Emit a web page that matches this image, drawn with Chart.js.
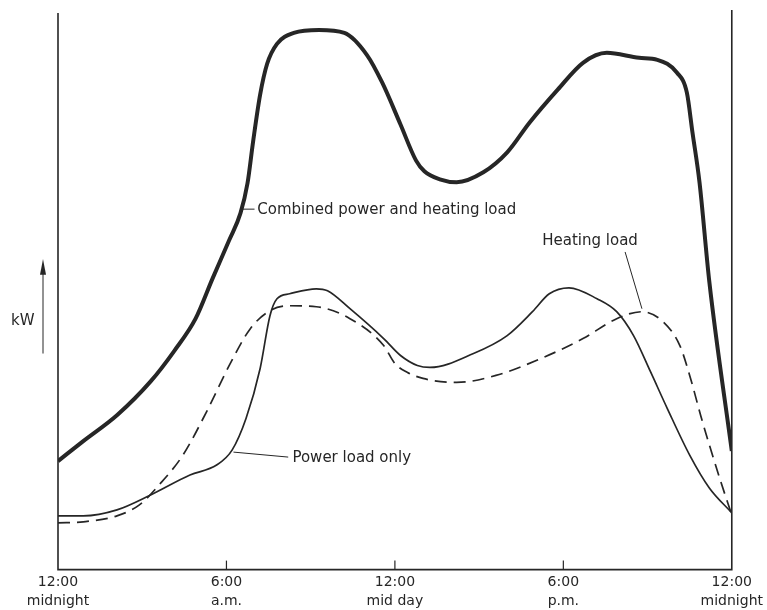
<!DOCTYPE html>
<html>
<head>
<meta charset="utf-8">
<script src="https://cdn.jsdelivr.net/npm/chart.js@4/dist/chart.umd.min.js"></script>
<style>
  html, body { margin: 0; padding: 0; background: #fff; }
  #wrap { width: 767px; height: 610px; }
</style>
</head>
<body>
<div id="wrap"><canvas id="loadChart" width="767" height="610"></canvas></div>
<script>
// hours from midnight, load in arbitrary kW units
const combinedHours = [0, 0.9, 2.1, 3.3, 4.15, 4.9, 5.5, 6.1, 6.5, 6.75, 6.95, 7.2, 7.45, 7.8, 8.4, 9.3, 10.2, 11.0, 11.55, 12.2, 12.75, 13.05, 13.6, 14.2, 15.15, 16.0, 16.8, 17.8, 18.7, 19.55, 20.7, 21.35, 22.05, 22.4, 22.6, 22.85, 23.2, 24];
const combinedKW = [109, 129, 155, 189, 220, 252, 292, 331, 358, 388, 430, 477, 508, 528, 539, 542, 539, 517, 489, 447, 411, 400, 392, 389, 399, 419, 449, 482, 509, 519, 514, 512, 499, 479, 439, 389, 289, 119];

const powerHours = [0, 0.9, 2.1, 3.3, 4.7, 5.65, 6.2, 6.7, 7.2, 7.55, 7.8, 8.25, 9.2, 9.6, 10.4, 11.6, 12.2, 12.8, 13.25, 14.8, 16.0, 16.9, 17.5, 18.2, 19.2, 19.9, 20.5, 21.1, 21.7, 22.5, 23.2, 24];
const powerKW = [54, 54, 60, 75, 95, 105, 120, 152, 202, 255, 272, 277, 282, 280, 262, 232, 215, 205, 203, 217, 235, 259, 277, 283, 272, 259, 235, 199, 162, 115, 82, 57];

const heatingHours = [0, 0.9, 2.1, 2.9, 3.6, 4.45, 5.3, 6.1, 6.85, 7.55, 8.25, 9.2, 10.4, 11.6, 12.0, 12.45, 13.0, 14.2, 15.6, 17.2, 18.7, 19.9, 20.8, 21.55, 22.15, 22.5, 22.95, 23.6, 24];
const heatingKW = [47, 48, 54, 65, 85, 115, 159, 205, 242, 260, 265, 264, 252, 225, 207, 198, 192, 188, 195, 212, 232, 252, 259, 249, 225, 195, 149, 89, 55];

const tickHours = [0, 6, 12, 18, 24];
const tickTimes = ["12:00", "6:00", "12:00", "6:00", "12:00"];
const tickParts = ["midnight", "a.m.", "mid day", "p.m.", "midnight"];

const ink = "#262626";
const font = "'DejaVu Sans', sans-serif";

function toPoints(hours, values) {
  return hours.map((h, i) => ({ x: h, y: values[i] }));
}

// axes frame, inner tick marks, leaders and labels
const frameAndNotes = {
  id: "frameAndNotes",
  afterDraw(chart) {
    const { ctx, chartArea: area, scales } = chart;
    const xs = scales.x, ys = scales.y;
    const px = (h) => xs.getPixelForValue(h);
    const py = (v) => ys.getPixelForValue(v);
    ctx.save();
    ctx.strokeStyle = ink;
    ctx.lineWidth = 1.6;
    ctx.beginPath();
    ctx.moveTo(area.left, area.top + 1);
    ctx.lineTo(area.left, area.bottom);
    ctx.lineTo(area.right, area.bottom);
    ctx.lineTo(area.right, area.top - 2);
    ctx.stroke();

    ctx.lineWidth = 1.2;
    [6, 12, 18].forEach((h) => {
      ctx.beginPath();
      ctx.moveTo(px(h), area.bottom);
      ctx.lineTo(px(h), area.bottom - 9);
      ctx.stroke();
    });

    // leader lines
    ctx.lineWidth = 1;
    ctx.beginPath();
    ctx.moveTo(px(6.5), py(362));
    ctx.lineTo(px(7.0), py(362));
    ctx.moveTo(px(6.25), py(118));
    ctx.lineTo(px(8.2), py(113));
    ctx.moveTo(px(20.2), py(319));
    ctx.lineTo(px(20.8), py(262));
    ctx.stroke();

    ctx.fillStyle = ink;
    ctx.font = "15px " + font;
    ctx.textBaseline = "middle";
    ctx.textAlign = "left";
    ctx.fillText("Combined power and heating load", px(7.1), py(361));
    ctx.fillText("Power load only", px(8.35), py(112));
    ctx.fillText("Heating load", px(17.25), py(330));

    // kW label and arrow
    ctx.fillText("kW", 11, py(250));
    ctx.beginPath();
    ctx.moveTo(43, py(217));
    ctx.lineTo(43, py(300));
    ctx.stroke();
    ctx.beginPath();
    ctx.moveTo(43, py(312));
    ctx.lineTo(40, py(296));
    ctx.lineTo(46, py(296));
    ctx.closePath();
    ctx.fill();
    ctx.restore();
  },
};

new Chart(document.getElementById("loadChart"), {
  type: "line",
  data: {
    datasets: [
      {
        label: "Combined power and heating load",
        data: toPoints(combinedHours, combinedKW),
        borderColor: ink,
        borderWidth: 4,
        pointRadius: 0,
        cubicInterpolationMode: "monotone",
      },
      {
        label: "Power load only",
        data: toPoints(powerHours, powerKW),
        borderColor: ink,
        borderWidth: 1.7,
        pointRadius: 0,
        cubicInterpolationMode: "monotone",
      },
      {
        label: "Heating load",
        data: toPoints(heatingHours, heatingKW),
        borderColor: ink,
        borderWidth: 1.7,
        borderDash: [12, 7],
        pointRadius: 0,
        cubicInterpolationMode: "monotone",
      },
    ],
  },
  options: {
    responsive: false,
    animation: false,
    layout: { padding: { left: 58, right: 35, top: 12, bottom: -4 } },
    plugins: { legend: { display: false }, tooltip: { enabled: false } },
    scales: {
      x: {
        type: "linear",
        min: 0,
        max: 24,
        afterBuildTicks: (axis) => {
          axis.ticks = tickHours.map((h) => ({ value: h }));
        },
        grid: { display: false, drawTicks: false },
        border: { display: false },
        ticks: {
          autoSkip: false,
          maxRotation: 0,
          padding: 4,
          color: ink,
          font: { family: font, size: 14, lineHeight: 1.3 },
          callback: (value) => {
            const i = tickHours.indexOf(value);
            return i < 0 ? "" : [tickTimes[i], tickParts[i]];
          },
        },
      },
      y: {
        display: false,
        min: 0,
        max: 560,
      },
    },
  },
  plugins: [frameAndNotes],
});
</script>
</body>
</html>
